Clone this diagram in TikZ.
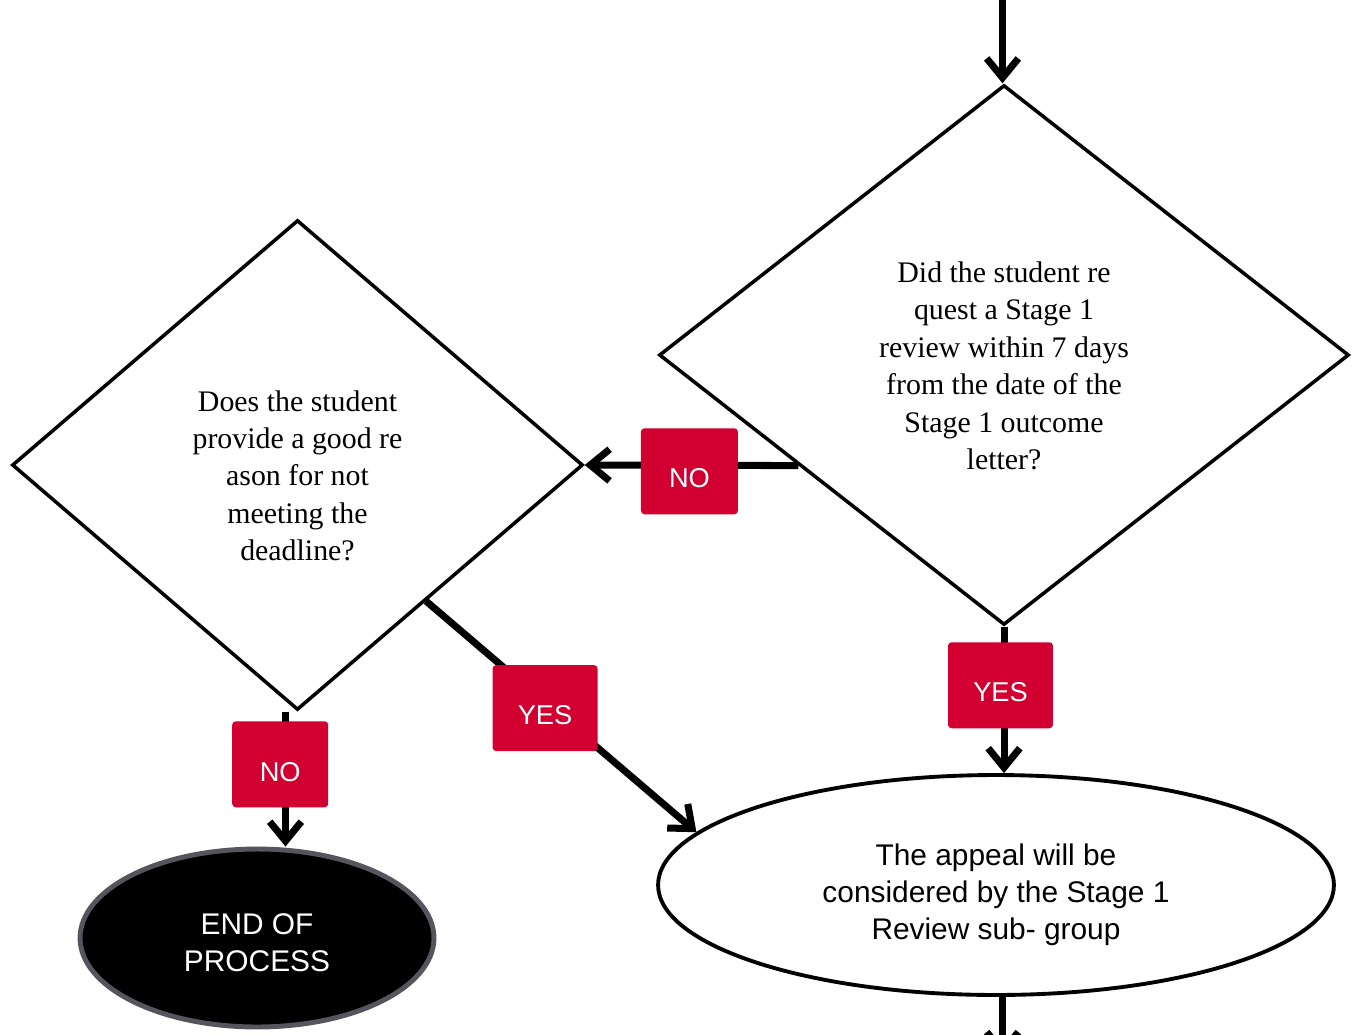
\documentclass[tikz,border=0pt]{standalone}
\usepackage{fontspec}
\setmainfont{Liberation Serif}
\setsansfont{Liberation Sans}
\usetikzlibrary{calc}
\usetikzlibrary{shapes.geometric}
\usetikzlibrary{arrows.meta}
\definecolor{tagred}{RGB}{210,0,48}
\definecolor{rimgrey}{RGB}{85,85,93}

\begin{document}
\begin{tikzpicture}[x=0.02cm, y=-0.02cm,
        flow/.style={line width=4pt, -{Straight Barb[length=11pt, width=18pt, line width=4pt]}},
        question/.style={diamond, draw, line width=2pt, inner sep=0pt, align=center,
            font=\fontsize{17pt}{21.3pt}\selectfont},
        outcome/.style={ellipse, draw, line width=2.2pt, inner sep=0pt, align=center,
            font=\sffamily\fontsize{17pt}{21pt}\selectfont},
        tag/.style={fill=tagred, text=white, rounded corners=2pt, minimum height=1.72cm,
            text height=19pt, text depth=0pt, font=\sffamily\fontsize{15.5pt}{18pt}\selectfont}]
                \clip (0, 0) rectangle (1358, 1034);
                \node[question, minimum width=13.8cm, minimum height=10.8cm] (request) at (1004, 355)
                    {\rule{0pt}{24pt}Did the student re\\quest a Stage 1\\review within 7 days\\from the date of the\\Stage 1 outcome\\letter?};
                \node[question, minimum width=11.42cm, minimum height=9.8cm] (reason) at (297.5, 465)
                    {\rule{0pt}{24pt}Does the student\\provide a good re\\ason for not\\meeting the\\deadline?};
                \node[outcome, minimum width=13.52cm, minimum height=4.4cm] (review) at (996, 885)
                    {\rule{0pt}{23pt}The appeal will be\\considered by the Stage 1\\Review sub- group};
                \node[outcome, draw=rimgrey, fill=black, text=white, line width=2.8pt,
                    minimum width=7.08cm, minimum height=3.56cm] (stop) at (257, 938)
                    {\rule{0pt}{17pt}END OF\\PROCESS};
                \coordinate (entry) at (1002.5, -10);
                \draw[flow] (entry) -- (entry |- request.north);
                \draw[flow] ($(request.west)!0.407!(request.south)$) -- node[tag, pos=0.51, yshift=-3.4pt, minimum width=1.94cm] (tagno) {NO} (reason.east);
                \draw[flow] (request.south) -- node[tag, pos=0.4, xshift=-2pt, minimum width=2.1cm] (tagyes) {YES} (request.south |- review.north);
                \draw[flow] ($(reason.east)!0.552!(reason.south)$) -- node[tag, pos=0.44, yshift=-3pt, minimum width=2.1cm] (tagok) {YES} (review.170);
                \draw[flow] ([xshift=-0.24cm]reason.south) -- node[tag, pos=0.39, xshift=-3pt, minimum width=1.92cm] (tagend) {NO} ([xshift=-0.24cm]reason.south |- stop.north);
                \draw[flow] (entry |- review.south) -- ++(0, 60);
            \end{tikzpicture}
\end{document}
